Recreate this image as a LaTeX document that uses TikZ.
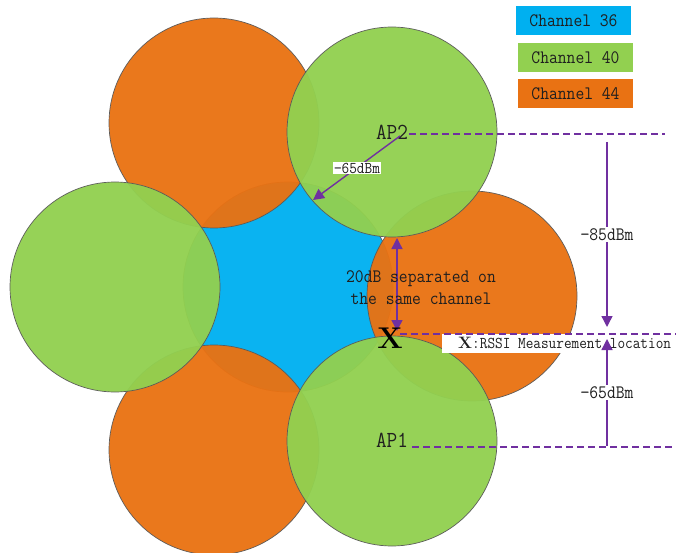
\documentclass[tikz,border=0pt]{standalone}
\usepackage{fontspec}
\usetikzlibrary{arrows.meta}
\newfontfamily\labelfont[FakeStretch=0.9]{Latin Modern Mono}
\definecolor{chblue}{HTML}{00B0F0}
\definecolor{chgreen}{HTML}{92D050}
\definecolor{chorange}{HTML}{E97213}
\definecolor{measpurple}{HTML}{7030A0}
\definecolor{textdark}{HTML}{1F1F1F}

\begin{document}
\begin{tikzpicture}[x=1pt,y=-1pt,
  cell/.style={draw=black!65, line width=0.7pt, opacity=0.96},
  lbl/.style={font=\labelfont\fontsize{19}{22}\selectfont, text=textdark, inner sep=1pt},
  smalllbl/.style={lbl, font=\labelfont\fontsize{16.5}{18}\selectfont},
  aplbl/.style={lbl, font=\labelfont\fontsize{23}{24}\selectfont},
  legend/.style={lbl, minimum width=115pt, minimum height=29pt, inner sep=0pt},
  meas/.style={draw=measpurple, line width=1.4pt},
  guide/.style={meas, dash pattern=on 7pt off 4pt},
  tip/.style={-{Triangle[length=11pt,width=11pt]}},
  bothtips/.style={{Triangle[length=11pt,width=11pt]}-{Triangle[length=11pt,width=11pt]}}]
\useasboundingbox (0,0) rectangle (676,553);

% co-channel cells: the serving cell underneath, neighbours on top
\path[cell, fill=chblue]   (288,287) circle[radius=105];
\path[cell, fill=chorange] (214,123) circle[radius=105];
\path[cell, fill=chorange] (472,296) circle[radius=105];
\path[cell, fill=chorange] (214,450) circle[radius=105];
\path[cell, fill=chgreen]  (115,287) circle[radius=105];
\path[cell, fill=chgreen]  (392,132) circle[radius=105];
\path[cell, fill=chgreen]  (392,441) circle[radius=105];

% legend
\node[legend, fill=chblue]   (ch36) at (573.5,21)   {Channel 36};
\node[legend, fill=chgreen]  (ch40) at (575.5,57.5) {Channel 40};
\node[legend, fill=chorange] (ch44) at (575.5,93.5) {Channel 44};

% access points and their reference lines
\node[aplbl] (ap2) at (392,132) {AP2};
\node[aplbl] (ap1) at (392,440) {AP1};
\coordinate (ap2end) at (665,134);
\coordinate (ap1start) at (412,447);
\coordinate (ap1end) at (676,447);
\draw[guide] (ap2.east |- ap2end) -- (ap2end);
\draw[guide] (ap1start) -- (ap1end);

% signal from AP2 to the cell edge
\coordinate (ap2src) at (400,136);
\coordinate (celledge) at (313,200);
\draw[meas, tip] (ap2src) -- (celledge);
\node[smalllbl, fill=white] (edge65) at (357,168) {−65dBm};

% separation between the co-channel cells
\coordinate (gaptop) at (397,238);
\coordinate (gapbot) at (397,331);
\draw[meas, bothtips] (gaptop) -- (gapbot);
\node[lbl, align=center] (sep) at (421,288) {20dB separated on\\the same channel};

% measurement location
\node[smalllbl, fill=white, anchor=west, minimum height=19pt, inner xsep=16pt] (xkey)
  at (442,343) {{\rmfamily\bfseries X}:RSSI Measurement location};
\node[font=\rmfamily\bfseries\fontsize{30}{30}\selectfont, text=black, inner sep=0pt] (xpt) at (390,338) {X};
\coordinate (xend) at (676,334);
\draw[guide] (400,334) -- (xend);

% received levels at the measurement location
\coordinate (m85top) at (607,142);
\coordinate (m85tip) at (607,327);
\coordinate (m65base) at (607,446);
\coordinate (m65tip) at (607,339);
\draw[meas, tip] (m85top) -- (m85tip) node[lbl, fill=white, pos=0.5] (lvl85) {−85dBm};
\draw[meas, tip] (m65base) -- (m65tip) node[lbl, fill=white, pos=0.5] (lvl65) {−65dBm};
\end{tikzpicture}
\end{document}
